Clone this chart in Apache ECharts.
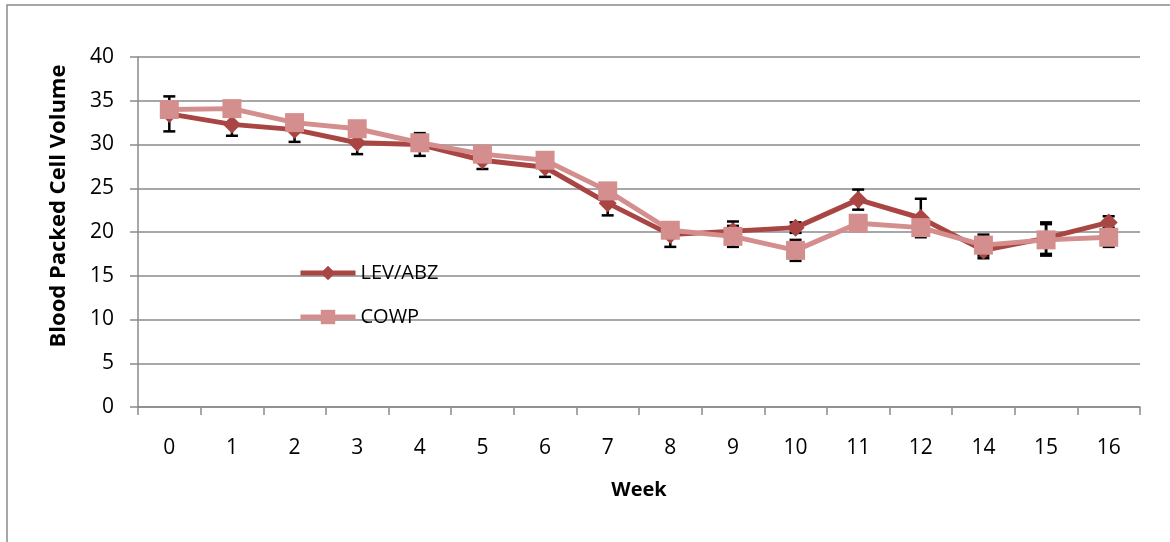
<!DOCTYPE html>
<html>
<head>
<meta charset="utf-8">
<script src="https://cdn.jsdelivr.net/npm/echarts@6/dist/echarts.min.js"></script>
<style>
    html, body { margin: 0; padding: 0; background: #fff; }
    #chart { width: 1170px; height: 542px; }
</style>
</head>
<body>
<div id="chart"></div>
<script>
    // data
    const weeks = ['0', '1', '2', '3', '4', '5', '6', '7', '8', '9', '10', '11', '12', '14', '15', '16'];
    const levAbz = [33.5, 32.3, 31.7, 30.2, 30.0, 28.2, 27.4, 23.3, 19.7, 20.1, 20.5, 23.7, 21.6, 17.9, 19.3, 21.1];
    const cowp = [34.0, 34.1, 32.5, 31.8, 30.2, 28.9, 28.2, 24.7, 20.2, 19.5, 17.9, 21.0, 20.5, 18.5, 19.1, 19.4];
    const levErr = [2.0, 1.3, 1.4, 1.3, 1.3, 1.0, 1.1, 1.4, 1.4, 1.1, 0.6, 1.15, 2.2, 0.9, 1.8, 0.7];
    const cowpErr = [0.8, 0.8, 0.8, 0.8, 0.8, 0.8, 0.8, 0.8, 0.8, 1.2, 1.2, 0.8, 0.8, 1.2, 1.8, 1.1];
    const yTicks = [0, 5, 10, 15, 20, 25, 30, 35, 40];

    const font = '"Open Sans", sans-serif';
    const levColor = '#a94643';
    const cowpColor = '#d38e8d';

    // [index, low, high] for the error bar series
    function errData(vals, errs) {
        return vals.map((v, i) => [i, v - errs[i], v + errs[i]]);
    }

    function renderErr(params, api) {
        const x = api.value(0);
        const lo = api.coord([x, api.value(1)]);
        const hi = api.coord([x, api.value(2)]);
        const w = 6;
        const style = { stroke: '#000', lineWidth: 2.5 };
        return {
            type: 'group',
            children: [
                { type: 'line', shape: { x1: hi[0], y1: hi[1], x2: lo[0], y2: lo[1] }, style: style },
                { type: 'line', shape: { x1: hi[0] - w, y1: hi[1], x2: hi[0] + w, y2: hi[1] }, style: style },
                { type: 'line', shape: { x1: lo[0] - w, y1: lo[1], x2: lo[0] + w, y2: lo[1] }, style: style }
            ]
        };
    }

    const chart = echarts.init(document.getElementById('chart'));
    const option = {
        animation: false,
        backgroundColor: '#fff',
        graphic: [{
            type: 'rect',
            shape: { x: 7, y: 5, width: 1200, height: 600 },
            style: { fill: 'none', stroke: '#8a8a8a', lineWidth: 1.5 },
            silent: true,
            z: -10
        }],
        grid: { left: 138, top: 57, width: 1002, height: 350 },
        legend: {
            orient: 'vertical',
            left: 293,
            top: 258,
            itemWidth: 55,
            itemHeight: 18,
            itemGap: 24,
            lineStyle: { width: 5 },
            textStyle: { fontFamily: font, fontSize: 20, lineHeight: 18, color: '#000' },
            data: ['LEV/ABZ', 'COWP']
        },
        xAxis: {
            type: 'category',
            data: weeks,
            boundaryGap: true,
            name: 'Week',
            nameLocation: 'middle',
            nameGap: 73,
            nameTextStyle: { fontFamily: font, fontSize: 20, fontWeight: 'bold', color: '#000' },
            axisLine: { lineStyle: { color: '#8a8a8a', width: 1.5 } },
            axisTick: { show: true, length: 8, lineStyle: { color: '#8a8a8a', width: 1.5 } },
            axisLabel: { fontFamily: font, fontSize: 21, color: '#000', margin: 31 }
        },
        yAxis: {
            type: 'value',
            min: 0,
            max: 40,
            interval: 5,
            name: 'Blood Packed Cell Volume',
            nameLocation: 'middle',
            nameGap: 68,
            nameTextStyle: {
                fontFamily: font, fontSize: 22, fontWeight: 'bold', color: '#000',
                padding: [0, 0, 0, 52]
            },
            axisLine: { show: true, lineStyle: { color: '#8a8a8a', width: 1.5 } },
            axisTick: { show: true, length: 8, lineStyle: { color: '#8a8a8a', width: 1.5 } },
            axisLabel: {
                fontFamily: font, fontSize: 21, color: '#000', margin: 24,
                formatter: v => (yTicks.indexOf(v) >= 0 ? String(v) : '')
            },
            splitLine: { lineStyle: { color: '#8a8a8a', width: 1.5 } }
        },
        series: [
            {
                type: 'custom',
                name: 'errLev',
                renderItem: renderErr,
                data: errData(levAbz, levErr),
                z: 1,
                silent: true
            },
            {
                type: 'custom',
                name: 'errCowp',
                renderItem: renderErr,
                data: errData(cowp, cowpErr),
                z: 1,
                silent: true
            },
            {
                name: 'LEV/ABZ',
                type: 'line',
                data: levAbz,
                symbol: 'diamond',
                symbolSize: 18,
                z: 3,
                itemStyle: { color: levColor },
                lineStyle: { color: levColor, width: 5 }
            },
            {
                name: 'COWP',
                type: 'line',
                data: cowp,
                symbol: 'rect',
                symbolSize: 19,
                z: 4,
                itemStyle: { color: cowpColor },
                lineStyle: { color: cowpColor, width: 5 }
            }
        ]
    };
    chart.setOption(option);
</script>
</body>
</html>
